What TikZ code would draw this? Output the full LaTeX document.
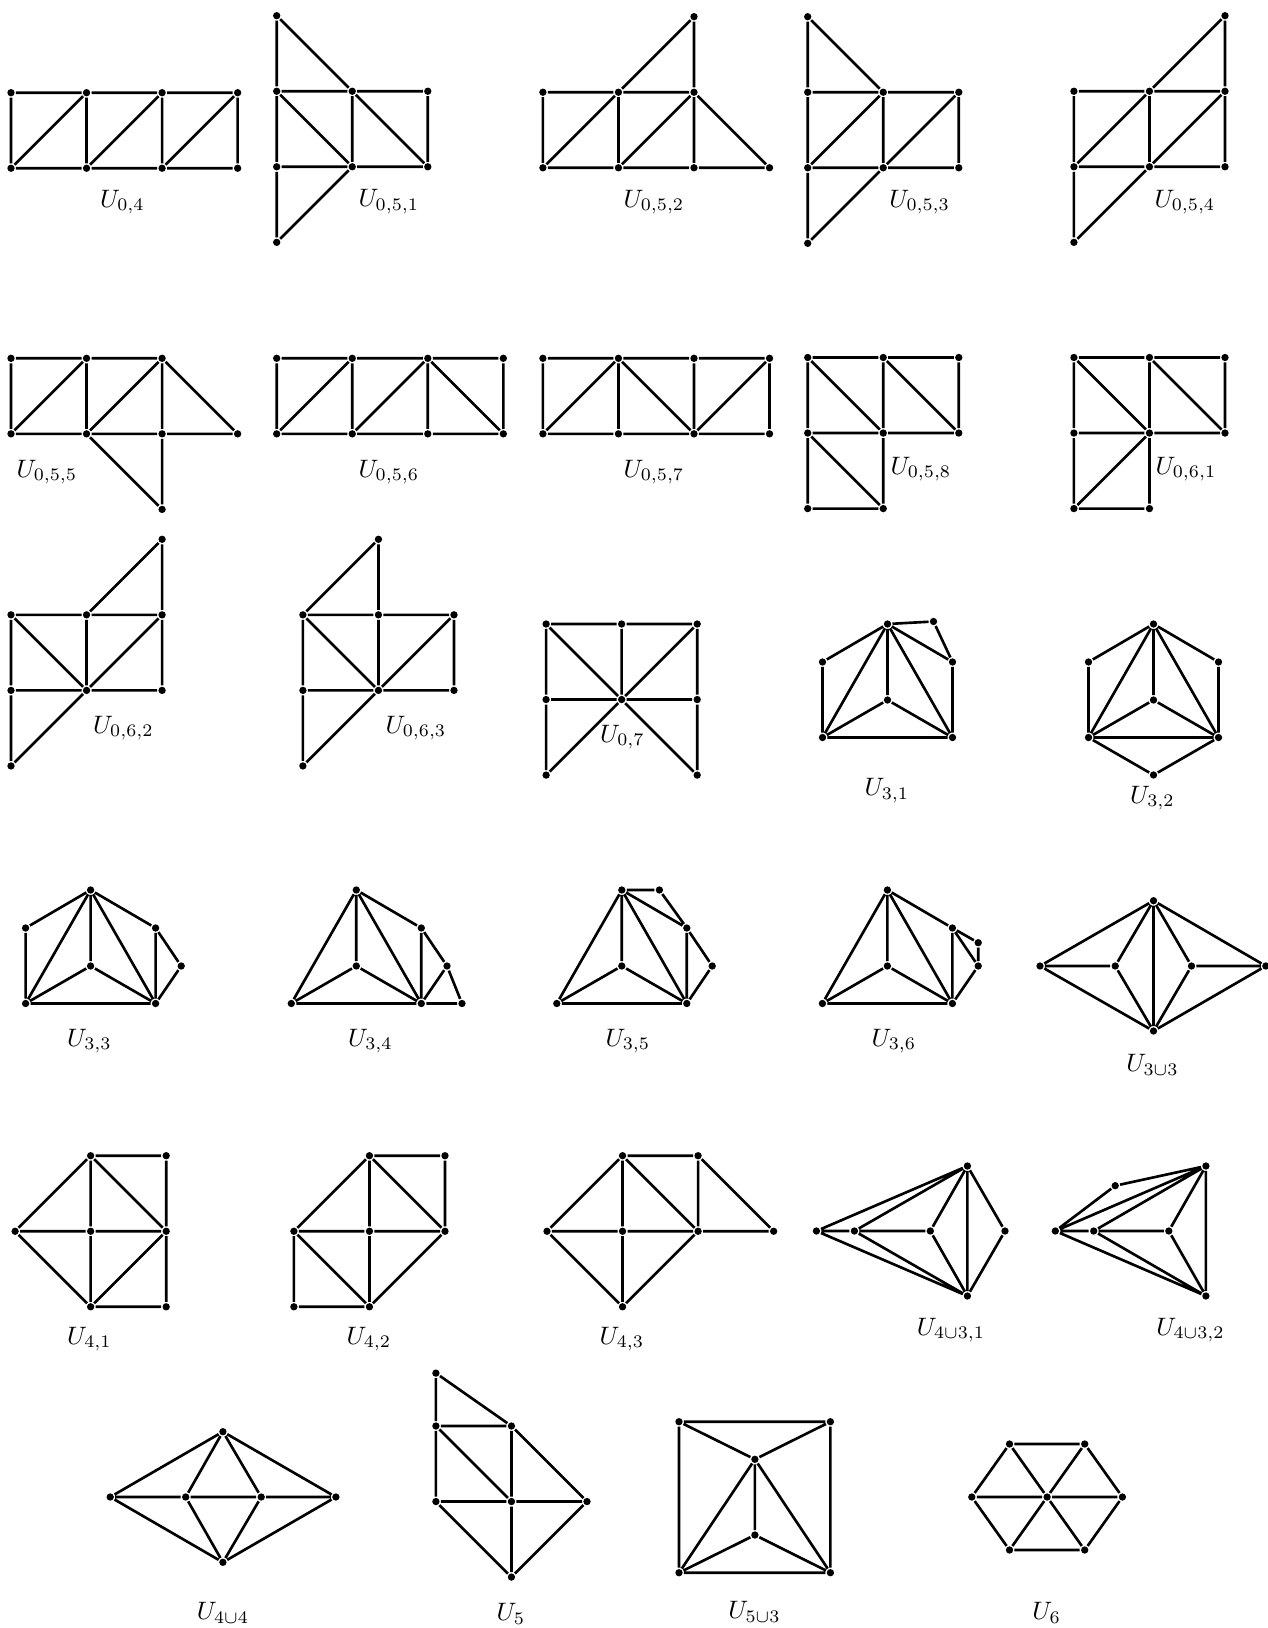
\documentclass[tikz,border=0pt]{standalone}
\usepackage{amsmath}
\usepackage{tikz}

\tikzset{
  v/.style={circle, fill, inner sep=0pt, minimum size=2.5pt},
  grid/.style={x=0.906cm, y=-0.906cm},
  glabel/.style={scale=0.86}
}

\begin{document}
\begin{tikzpicture}[x=0.012cm, y=-0.012cm, line width=0.9pt, line join=round]
  \useasboundingbox (0,0) rectangle (1267,1628);

  % U_{0,4}
  \begin{scope}[shift={(11,92.7)}, grid]
    \node[v] (A00) at (0,0) {}; \node[v] (A10) at (1,0) {};
    \node[v] (A20) at (2,0) {}; \node[v] (A30) at (3,0) {};
    \node[v] (A01) at (0,1) {}; \node[v] (A11) at (1,1) {};
    \node[v] (A21) at (2,1) {}; \node[v] (A31) at (3,1) {};
    \draw (A00) -- (A10) -- (A20) -- (A30)
          (A01) -- (A11) -- (A21) -- (A31)
          (A00) -- (A01)  (A10) -- (A11)  (A20) -- (A21)  (A30) -- (A31)
          (A01) -- (A10)  (A11) -- (A20)  (A21) -- (A30);
  \end{scope}
  \node[glabel] (lA) at (122.4,202) {$U_{0,4}$};

  % U_{0,5,1}
  \begin{scope}[shift={(276.7,15.7)}, grid]
    \node[v] (B00) at (0,0) {};
    \node[v] (B01) at (0,1) {}; \node[v] (B11) at (1,1) {}; \node[v] (B21) at (2,1) {};
    \node[v] (B02) at (0,2) {}; \node[v] (B12) at (1,2) {}; \node[v] (B22) at (2,2) {};
    \node[v] (B03) at (0,3) {};
    \draw (B00) -- (B01) -- (B02) -- (B03)
          (B00) -- (B11) -- (B22)
          (B01) -- (B11) -- (B21)
          (B02) -- (B12) -- (B22)
          (B11) -- (B12)  (B21) -- (B22)
          (B01) -- (B12) -- (B03);
  \end{scope}
  \node[glabel] (lB) at (388.8,201.7) {$U_{0,5,1}$};

  % U_{0,5,2}
  \begin{scope}[shift={(542.9,16.7)}, grid]
    \node[v] (C20) at (2,0) {};
    \node[v] (C01) at (0,1) {}; \node[v] (C11) at (1,1) {}; \node[v] (C21) at (2,1) {};
    \node[v] (C02) at (0,2) {}; \node[v] (C12) at (1,2) {}; \node[v] (C22) at (2,2) {};
    \node[v] (C32) at (3,2) {};
    \draw (C01) -- (C11) -- (C21)
          (C02) -- (C12) -- (C22) -- (C32)
          (C01) -- (C02)  (C11) -- (C12)
          (C20) -- (C21) -- (C22)
          (C02) -- (C11) -- (C20)
          (C12) -- (C21) -- (C32);
  \end{scope}
  \node[glabel] (lC) at (654,202) {$U_{0,5,2}$};

  % U_{0,5,3}
  \begin{scope}[shift={(807.7,16.7)}, grid]
    \node[v] (D00) at (0,0) {};
    \node[v] (D01) at (0,1) {}; \node[v] (D11) at (1,1) {}; \node[v] (D21) at (2,1) {};
    \node[v] (D02) at (0,2) {}; \node[v] (D12) at (1,2) {}; \node[v] (D22) at (2,2) {};
    \node[v] (D03) at (0,3) {};
    \draw (D00) -- (D01) -- (D02) -- (D03)
          (D00) -- (D11)
          (D01) -- (D11) -- (D21)
          (D02) -- (D12) -- (D22)
          (D11) -- (D12)  (D21) -- (D22)
          (D02) -- (D11)
          (D03) -- (D12) -- (D21);
  \end{scope}
  \node[glabel] (lD) at (919.6,202) {$U_{0,5,3}$};

  % U_{0,5,4}
  \begin{scope}[shift={(1073.9,15.7)}, grid]
    \node[v] (E20) at (2,0) {};
    \node[v] (E01) at (0,1) {}; \node[v] (E11) at (1,1) {}; \node[v] (E21) at (2,1) {};
    \node[v] (E02) at (0,2) {}; \node[v] (E12) at (1,2) {}; \node[v] (E22) at (2,2) {};
    \node[v] (E03) at (0,3) {};
    \draw (E01) -- (E11) -- (E21)
          (E02) -- (E12) -- (E22)
          (E01) -- (E02) -- (E03)
          (E11) -- (E12)
          (E20) -- (E21) -- (E22)
          (E02) -- (E11) -- (E20)
          (E03) -- (E12) -- (E21);
  \end{scope}
  \node[glabel] (lE) at (1185,202) {$U_{0,5,4}$};

  % U_{0,5,5}
  \begin{scope}[shift={(11,358.3)}, grid]
    \node[v] (F00) at (0,0) {}; \node[v] (F10) at (1,0) {}; \node[v] (F20) at (2,0) {};
    \node[v] (F01) at (0,1) {}; \node[v] (F11) at (1,1) {}; \node[v] (F21) at (2,1) {};
    \node[v] (F31) at (3,1) {};
    \node[v] (F22) at (2,2) {};
    \draw (F00) -- (F10) -- (F20)
          (F01) -- (F11) -- (F21) -- (F31)
          (F00) -- (F01)  (F10) -- (F11)
          (F20) -- (F21) -- (F22)
          (F01) -- (F10)
          (F11) -- (F20) -- (F31)
          (F11) -- (F22);
  \end{scope}
  \node[glabel] (lF) at (47,472) {$U_{0,5,5}$};

  % U_{0,5,6}
  \begin{scope}[shift={(276.7,358.3)}, grid]
    \node[v] (G00) at (0,0) {}; \node[v] (G10) at (1,0) {};
    \node[v] (G20) at (2,0) {}; \node[v] (G30) at (3,0) {};
    \node[v] (G01) at (0,1) {}; \node[v] (G11) at (1,1) {};
    \node[v] (G21) at (2,1) {}; \node[v] (G31) at (3,1) {};
    \draw (G00) -- (G10) -- (G20) -- (G30)
          (G01) -- (G11) -- (G21) -- (G31)
          (G00) -- (G01)  (G10) -- (G11)  (G20) -- (G21)  (G30) -- (G31)
          (G01) -- (G10)
          (G11) -- (G20) -- (G31);
  \end{scope}
  \node[glabel] (lG) at (388.8,472) {$U_{0,5,6}$};

  % U_{0,5,7}
  \begin{scope}[shift={(542.9,358.3)}, grid]
    \node[v] (H00) at (0,0) {}; \node[v] (H10) at (1,0) {};
    \node[v] (H20) at (2,0) {}; \node[v] (H30) at (3,0) {};
    \node[v] (H01) at (0,1) {}; \node[v] (H11) at (1,1) {};
    \node[v] (H21) at (2,1) {}; \node[v] (H31) at (3,1) {};
    \draw (H00) -- (H10) -- (H20) -- (H30)
          (H01) -- (H11) -- (H21) -- (H31)
          (H00) -- (H01)  (H10) -- (H11)  (H20) -- (H21)  (H30) -- (H31)
          (H01) -- (H10) -- (H21) -- (H30);
  \end{scope}
  \node[glabel] (lH) at (654,472) {$U_{0,5,7}$};

  % U_{0,5,8}
  \begin{scope}[shift={(807.7,357.5)}, grid]
    \node[v] (I00) at (0,0) {}; \node[v] (I10) at (1,0) {}; \node[v] (I20) at (2,0) {};
    \node[v] (I01) at (0,1) {}; \node[v] (I11) at (1,1) {}; \node[v] (I21) at (2,1) {};
    \node[v] (I02) at (0,2) {}; \node[v] (I12) at (1,2) {};
    \draw (I00) -- (I10) -- (I20)
          (I01) -- (I11) -- (I21)
          (I02) -- (I12)
          (I00) -- (I01) -- (I02)
          (I10) -- (I11) -- (I12)
          (I20) -- (I21)
          (I00) -- (I11)  (I10) -- (I21)  (I01) -- (I12);
  \end{scope}
  \node[glabel] (lI) at (921,469) {$U_{0,5,8}$};

  % U_{0,6,1}
  \begin{scope}[shift={(1073.9,357.5)}, grid]
    \node[v] (J00) at (0,0) {}; \node[v] (J10) at (1,0) {}; \node[v] (J20) at (2,0) {};
    \node[v] (J01) at (0,1) {}; \node[v] (J11) at (1,1) {}; \node[v] (J21) at (2,1) {};
    \node[v] (J02) at (0,2) {}; \node[v] (J12) at (1,2) {};
    \draw (J00) -- (J10) -- (J20)
          (J01) -- (J11) -- (J21)
          (J02) -- (J12)
          (J00) -- (J01) -- (J02)
          (J10) -- (J11) -- (J12)
          (J20) -- (J21)
          (J00) -- (J11)  (J10) -- (J21)  (J02) -- (J11);
  \end{scope}
  \node[glabel] (lJ) at (1186,469) {$U_{0,6,1}$};

  % U_{0,6,2}
  \begin{scope}[shift={(11,539.3)}, grid]
    \node[v] (K20) at (2,0) {};
    \node[v] (K01) at (0,1) {}; \node[v] (K11) at (1,1) {}; \node[v] (K21) at (2,1) {};
    \node[v] (K02) at (0,2) {}; \node[v] (K12) at (1,2) {}; \node[v] (K22) at (2,2) {};
    \node[v] (K03) at (0,3) {};
    \draw (K01) -- (K11) -- (K21)
          (K02) -- (K12) -- (K22)
          (K01) -- (K02) -- (K03)
          (K11) -- (K12)
          (K20) -- (K21) -- (K22)
          (K11) -- (K20)
          (K01) -- (K12) -- (K21)
          (K03) -- (K12);
  \end{scope}
  \node[glabel] (lK) at (123.3,728) {$U_{0,6,2}$};

  % U_{0,6,3}
  \begin{scope}[shift={(302.9,539.3)}, grid]
    \node[v] (L10) at (1,0) {};
    \node[v] (L01) at (0,1) {}; \node[v] (L11) at (1,1) {}; \node[v] (L21) at (2,1) {};
    \node[v] (L02) at (0,2) {}; \node[v] (L12) at (1,2) {}; \node[v] (L22) at (2,2) {};
    \node[v] (L03) at (0,3) {};
    \draw (L01) -- (L10) -- (L11) -- (L12)
          (L01) -- (L11) -- (L21)
          (L02) -- (L12) -- (L22)
          (L01) -- (L02) -- (L03)
          (L21) -- (L22)
          (L01) -- (L12) -- (L21)
          (L03) -- (L12);
  \end{scope}
  \node[glabel] (lL) at (416,728) {$U_{0,6,3}$};

  % U_{0,7}
  \begin{scope}[shift={(546.1,624)}, grid]
    \node[v] (M00) at (0,0) {}; \node[v] (M10) at (1,0) {}; \node[v] (M20) at (2,0) {};
    \node[v] (M01) at (0,1) {}; \node[v] (M11) at (1,1) {}; \node[v] (M21) at (2,1) {};
    \node[v] (M02) at (0,2) {}; \node[v] (M22) at (2,2) {};
    \draw (M00) -- (M10) -- (M20)
          (M01) -- (M11) -- (M21)
          (M00) -- (M01) -- (M02)
          (M10) -- (M11)
          (M20) -- (M21) -- (M22)
          (M00) -- (M11) -- (M22)
          (M20) -- (M11) -- (M02);
  \end{scope}
  \node[glabel] (lM) at (622.5,737) {$U_{0,7}$};

  % U_{3,1}
  \begin{scope}[shift={(887.5,624)}]
    \node[v] (Nt) at (0,0) {};
    \node[v] (Nl) at (-65,38) {}; \node[v] (Nr) at (65,38) {};
    \node[v] (Nc) at (0,76) {};
    \node[v] (Nbl) at (-65,113.5) {}; \node[v] (Nbr) at (65,113.5) {};
    \node[v] (Nx) at (46,-2.5) {};
    \draw (Nt) -- (Nl) -- (Nbl) -- (Nt) -- (Nc)
          (Nbl) -- (Nc) -- (Nbr) -- (Nbl)
          (Nt) -- (Nbr)
          (Nt) -- (Nr) -- (Nbr)
          (Nt) -- (Nx) -- (Nr);
  \end{scope}
  \node[glabel] (lN) at (887,790.8) {$U_{3,1}$};

  % U_{3,2}
  \begin{scope}[shift={(1153.5,624)}]
    \node[v] (Ot) at (0,0) {};
    \node[v] (Ol) at (-65,38) {}; \node[v] (Or) at (65,38) {};
    \node[v] (Oc) at (0,76) {};
    \node[v] (Obl) at (-65,113.5) {}; \node[v] (Obr) at (65,113.5) {};
    \node[v] (Ob) at (0,151) {};
    \draw (Ot) -- (Ol) -- (Obl) -- (Ot) -- (Oc)
          (Obl) -- (Oc) -- (Obr) -- (Obl)
          (Ot) -- (Obr)
          (Ot) -- (Or) -- (Obr)
          (Obl) -- (Ob) -- (Obr);
  \end{scope}
  \node[glabel] (lO) at (1152.5,798) {$U_{3,2}$};

  % U_{3,3}
  \begin{scope}[shift={(90.6,890)}]
    \node[v] (Pt) at (0,0) {};
    \node[v] (Pl) at (-65,38) {}; \node[v] (Pr) at (65,38) {};
    \node[v] (Pc) at (0,76) {};
    \node[v] (Pbl) at (-65,113.5) {}; \node[v] (Pbr) at (65,113.5) {};
    \node[v] (Px) at (90.6,76) {};
    \draw (Pt) -- (Pl) -- (Pbl) -- (Pt) -- (Pc)
          (Pbl) -- (Pc) -- (Pbr) -- (Pbl)
          (Pt) -- (Pbr)
          (Pt) -- (Pr) -- (Pbr)
          (Pr) -- (Px) -- (Pbr);
  \end{scope}
  \node[glabel] (lP) at (89.5,1041) {$U_{3,3}$};

  % U_{3,4}
  \begin{scope}[shift={(356.3,890)}]
    \node[v] (Qt) at (0,0) {};
    \node[v] (Qr) at (65,38) {};
    \node[v] (Qc) at (0,76) {};
    \node[v] (Qbl) at (-65,113.5) {}; \node[v] (Qbr) at (65,113.5) {};
    \node[v] (Qx) at (90.7,76) {}; \node[v] (Qy) at (105.7,113.5) {};
    \draw (Qbl) -- (Qt) -- (Qc)
          (Qbl) -- (Qc) -- (Qbr) -- (Qbl)
          (Qt) -- (Qbr)
          (Qt) -- (Qr) -- (Qbr)
          (Qr) -- (Qx) -- (Qbr) -- (Qy) -- (Qx);
  \end{scope}
  \node[glabel] (lQ) at (370.4,1041) {$U_{3,4}$};

  % U_{3,5}
  \begin{scope}[shift={(621.8,890)}]
    \node[v] (Rt) at (0,0) {};
    \node[v] (Rr) at (65,38) {};
    \node[v] (Rc) at (0,76) {};
    \node[v] (Rbl) at (-65,113.5) {}; \node[v] (Rbr) at (65,113.5) {};
    \node[v] (Rx) at (37.6,0) {}; \node[v] (Ry) at (90.4,76) {};
    \draw (Rbl) -- (Rt) -- (Rc)
          (Rbl) -- (Rc) -- (Rbr) -- (Rbl)
          (Rt) -- (Rbr)
          (Rt) -- (Rr) -- (Rbr)
          (Rt) -- (Rx) -- (Rr) -- (Ry) -- (Rbr);
  \end{scope}
  \node[glabel] (lR) at (628,1041) {$U_{3,5}$};

  % U_{3,6}
  \begin{scope}[shift={(887.4,890)}]
    \node[v] (St) at (0,0) {};
    \node[v] (Sr) at (65,38) {};
    \node[v] (Sc) at (0,76) {};
    \node[v] (Sbl) at (-65,113.5) {}; \node[v] (Sbr) at (65,113.5) {};
    \node[v] (Sx) at (90.8,52.7) {}; \node[v] (Sy) at (90.8,76) {};
    \draw (Sbl) -- (St) -- (Sc)
          (Sbl) -- (Sc) -- (Sbr) -- (Sbl)
          (St) -- (Sbr)
          (St) -- (Sr) -- (Sbr)
          (Sr) -- (Sx) -- (Sy) -- (Sr)
          (Sy) -- (Sbr);
  \end{scope}
  \node[glabel] (lS) at (894,1041) {$U_{3,6}$};

  % U_{3\cup 3}
  \begin{scope}[shift={(1153.5,966)}]
    \node[v] (Tt) at (0,-65.3) {}; \node[v] (Tb) at (0,65) {};
    \node[v] (Tl) at (-113.5,0) {}; \node[v] (Tm) at (-38.3,0) {};
    \node[v] (Tn) at (38,0) {}; \node[v] (Tr) at (112.3,0) {};
    \draw (Tl) -- (Tt) -- (Tr) -- (Tb) -- (Tl)
          (Tl) -- (Tm)  (Tn) -- (Tr)
          (Tt) -- (Tm) -- (Tb)
          (Tt) -- (Tn) -- (Tb)
          (Tt) -- (Tb);
  \end{scope}
  \node[glabel] (lT) at (1152.5,1065) {$U_{3\cup 3}$};

  % U_{4,1}
  \begin{scope}[shift={(15.1,1155.7)}, grid]
    \node[v] (W10) at (1,0) {}; \node[v] (W20) at (2,0) {};
    \node[v] (W01) at (0,1) {}; \node[v] (W11) at (1,1) {}; \node[v] (W21) at (2,1) {};
    \node[v] (W12) at (1,2) {}; \node[v] (W22) at (2,2) {};
    \draw (W12) -- (W01) -- (W10)
          (W01) -- (W11) -- (W21)
          (W10) -- (W11) -- (W12)
          (W10) -- (W20) -- (W21) -- (W22) -- (W12)
          (W10) -- (W21) -- (W12);
  \end{scope}
  \node[glabel] (lW) at (89.5,1339) {$U_{4,1}$};

  % U_{4,2}
  \begin{scope}[shift={(293.9,1155.7)}, grid]
    \node[v] (X10) at (1,0) {}; \node[v] (X20) at (2,0) {};
    \node[v] (X01) at (0,1) {}; \node[v] (X11) at (1,1) {}; \node[v] (X21) at (2,1) {};
    \node[v] (X02) at (0,2) {}; \node[v] (X12) at (1,2) {};
    \draw (X01) -- (X10) -- (X20) -- (X21)
          (X01) -- (X11) -- (X21)
          (X10) -- (X11) -- (X12)
          (X10) -- (X21) -- (X12)
          (X01) -- (X02) -- (X12) -- (X01);
  \end{scope}
  \node[glabel] (lX) at (369,1339) {$U_{4,2}$};

  % U_{4,3}
  \begin{scope}[shift={(547,1155.7)}, grid]
    \node[v] (Y10) at (1,0) {}; \node[v] (Y20) at (2,0) {};
    \node[v] (Y01) at (0,1) {}; \node[v] (Y11) at (1,1) {}; \node[v] (Y21) at (2,1) {};
    \node[v] (Y31) at (3,1) {};
    \node[v] (Y12) at (1,2) {};
    \draw (Y12) -- (Y01) -- (Y10) -- (Y20) -- (Y21)
          (Y01) -- (Y11) -- (Y21) -- (Y31) -- (Y20)
          (Y10) -- (Y11) -- (Y12)
          (Y10) -- (Y21) -- (Y12);
  \end{scope}
  \node[glabel] (lY) at (622,1339) {$U_{4,3}$};

  % U_{4\cup 3,1}
  \node[v] (Zt) at (967.4,1166) {}; \node[v] (Zb) at (967.4,1296) {};
  \node[v] (Zl) at (816.4,1231) {}; \node[v] (Zm) at (854.4,1231) {};
  \node[v] (Zc) at (930.3,1231) {}; \node[v] (Zr) at (1005,1231) {};
  \draw (Zt) -- (Zl) -- (Zb)
        (Zl) -- (Zm) -- (Zc)
        (Zt) -- (Zm) -- (Zb)
        (Zt) -- (Zc) -- (Zb)
        (Zt) -- (Zb)
        (Zt) -- (Zr) -- (Zb);
  \node[glabel] (lZ) at (951,1330) {$U_{4\cup 3,1}$};

  % U_{4\cup 3,2}
  \node[v] (Vt) at (1205.9,1166) {}; \node[v] (Vb) at (1205.9,1296) {};
  \node[v] (Vl) at (1055.3,1231) {}; \node[v] (Vm) at (1093.7,1231) {};
  \node[v] (Vc) at (1168.8,1231) {}; \node[v] (Vx) at (1115.2,1185.7) {};
  \draw (Vl) -- (Vx) -- (Vt) -- (Vl) -- (Vb)
        (Vl) -- (Vm) -- (Vc)
        (Vt) -- (Vm) -- (Vb)
        (Vt) -- (Vc) -- (Vb)
        (Vt) -- (Vb);
  \node[glabel] (lV) at (1190.5,1330) {$U_{4\cup 3,2}$};

  % U_{4\cup 4}
  \node[v] (at) at (222.9,1431.7) {}; \node[v] (ab) at (222.9,1562.3) {};
  \node[v] (al) at (110.2,1497) {}; \node[v] (am) at (185.7,1497) {};
  \node[v] (an) at (261.2,1497) {}; \node[v] (ar) at (335.9,1497) {};
  \draw (al) -- (at) -- (ar) -- (ab) -- (al)
        (al) -- (am) -- (an) -- (ar)
        (at) -- (am) -- (ab)
        (at) -- (an) -- (ab);
  \node[glabel] (la) at (223,1613) {$U_{4\cup 4}$};

  % U_5
  \begin{scope}[shift={(435.9,1426)}, grid]
    \node[v] (bt) at (0,-0.7) {};
    \node[v] (b00) at (0,0) {}; \node[v] (b10) at (1,0) {};
    \node[v] (b01) at (0,1) {}; \node[v] (b11) at (1,1) {}; \node[v] (b21) at (2,1) {};
    \node[v] (b12) at (1,2) {};
    \draw (bt) -- (b00) -- (b01) -- (b12)
          (bt) -- (b10) -- (b21) -- (b12)
          (b00) -- (b10) -- (b11) -- (b12)
          (b00) -- (b11)
          (b01) -- (b11) -- (b21);
  \end{scope}
  \node[glabel] (lb) at (510.8,1614) {$U_5$};

  % U_{5\cup 3}
  \node[v] (c1) at (679,1421.7) {}; \node[v] (c2) at (830.4,1421.7) {};
  \node[v] (c3) at (679,1572.7) {}; \node[v] (c4) at (830.4,1572.7) {};
  \node[v] (cu) at (754.9,1459.3) {}; \node[v] (cl) at (754.9,1535) {};
  \draw (c1) -- (c2) -- (c4) -- (c3) -- (c1)
        (c1) -- (cu) -- (c2)
        (cu) -- (cl)
        (c3) -- (cu) -- (c4)
        (c3) -- (cl) -- (c4);
  \node[glabel] (lc) at (754.5,1612) {$U_{5\cup 3}$};

  % U_6
  \begin{scope}[shift={(1047.1,1497)}]
    \node[v] (d0) at (0,0) {};
    \node[v] (d1) at (75.3,0) {}; \node[v] (d2) at (37.6,-53) {};
    \node[v] (d3) at (-37.6,-53) {}; \node[v] (d4) at (-75.3,0) {};
    \node[v] (d5) at (-37.6,53) {}; \node[v] (d6) at (37.6,53) {};
    \draw (d1) -- (d2) -- (d3) -- (d4) -- (d5) -- (d6) -- (d1)
          (d1) -- (d0) -- (d4)
          (d2) -- (d0) -- (d5)
          (d3) -- (d0) -- (d6);
  \end{scope}
  \node[glabel] (ld) at (1046.7,1613) {$U_6$};
\end{tikzpicture}
\end{document}
